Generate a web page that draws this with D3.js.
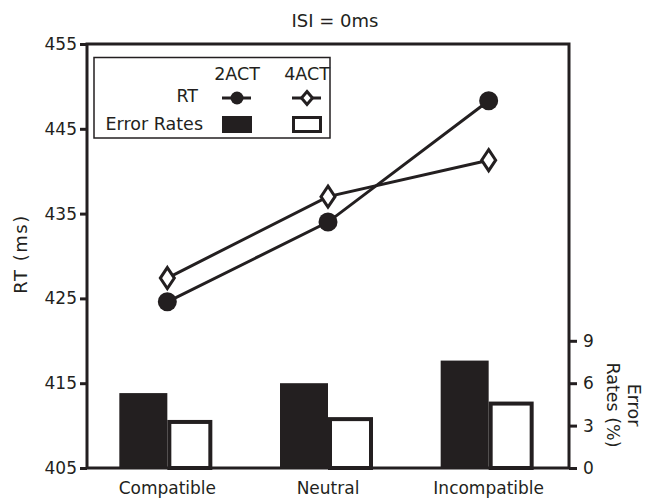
<!DOCTYPE html>
<html>
<head>
<meta charset="utf-8">
<script src="https://cdn.jsdelivr.net/npm/d3@7"></script>
<style>
  body { margin: 0; background: #fff; }
  text { font-family: "DejaVu Sans", Verdana, sans-serif; fill: #231f20; }
</style>
</head>
<body>
<div id="chart"></div>
<script>
// data
const categories = ["Compatible", "Neutral", "Incompatible"];
const groups = ["2ACT", "4ACT"];
const rt2act = [424.6, 434.0, 448.3];
const rt4act = [427.4, 437.0, 441.3];
const err2act = [5.3, 6.0, 7.6];
const err4act = [3.4, 3.6, 4.7];
const rtTicks = [405, 415, 425, 435, 445, 455];
const errTicks = [0, 3, 6, 9];

const W = 646, H = 499;
const margin = { top: 44, right: 77, bottom: 31, left: 87 };
const width = W - margin.left - margin.right;
const height = H - margin.top - margin.bottom;
const ink = "#231f20";

const svg = d3.select("#chart").append("svg")
    .attr("width", W)
    .attr("height", H);

const g = svg.append("g")
    .attr("transform", `translate(${margin.left},${margin.top})`);

// scales
const x = d3.scaleBand().domain(categories).range([0, width]);
const x1 = d3.scaleBand().domain(groups).range([-48, 48]);
const yRT = d3.scaleLinear().domain([405, 455]).range([height, 0]);
const yErr = d3.scaleLinear().domain([0, 30]).range([height, 0]);

const cx = c => x(c) + x.bandwidth() / 2;

// error rate bars
const errRows = categories.map((c, i) => ({ cat: c, "2ACT": err2act[i], "4ACT": err4act[i] }));

g.selectAll(".bar-2act")
    .data(errRows)
    .enter()
    .append("rect")
    .attr("class", "bar-2act")
    .attr("x", d => cx(d.cat) + x1("2ACT"))
    .attr("width", x1.bandwidth())
    .attr("y", d => yErr(d["2ACT"]))
    .attr("height", d => height - yErr(d["2ACT"]))
    .attr("fill", ink);

g.selectAll(".bar-4act")
    .data(errRows)
    .enter()
    .append("rect")
    .attr("class", "bar-4act")
    .attr("x", d => cx(d.cat) + x1("4ACT") + 2)
    .attr("width", x1.bandwidth() - 7)
    .attr("y", d => yErr(d["4ACT"]) + 2)
    .attr("height", d => height - yErr(d["4ACT"]) - 2)
    .attr("fill", "#fff")
    .attr("stroke", ink)
    .attr("stroke-width", 4);

// RT lines
const line = d3.line()
    .x((d, i) => cx(categories[i]))
    .y(d => yRT(d));

g.append("path")
    .datum(rt2act)
    .attr("d", line)
    .attr("fill", "none")
    .attr("stroke", ink)
    .attr("stroke-width", 3);

g.append("path")
    .datum(rt4act)
    .attr("d", line)
    .attr("fill", "none")
    .attr("stroke", ink)
    .attr("stroke-width", 3);

g.selectAll(".dot-2act")
    .data(rt2act)
    .enter()
    .append("circle")
    .attr("class", "dot-2act")
    .attr("cx", (d, i) => cx(categories[i]))
    .attr("cy", d => yRT(d))
    .attr("r", 9.5)
    .attr("fill", ink);

const diamond = (hw, hh) => `M0,${-hh}L${hw},0L0,${hh}L${-hw},0Z`;

g.selectAll(".dot-4act")
    .data(rt4act)
    .enter()
    .append("path")
    .attr("class", "dot-4act")
    .attr("transform", (d, i) => `translate(${cx(categories[i])},${yRT(d)})`)
    .attr("d", diamond(7, 10.5))
    .attr("fill", "#fff")
    .attr("stroke", ink)
    .attr("stroke-width", 3);

// frame
g.append("rect")
    .attr("width", width)
    .attr("height", height)
    .attr("fill", "none")
    .attr("stroke", ink)
    .attr("stroke-width", 3);

// axes
const leftAxis = g.append("g")
    .call(d3.axisLeft(yRT).tickValues(rtTicks).tickSize(7).tickPadding(3));

const rightAxis = g.append("g")
    .attr("transform", `translate(${width},0)`)
    .call(d3.axisRight(yErr).tickValues(errTicks).tickSize(8).tickPadding(6));

const bottomAxis = g.append("g")
    .attr("transform", `translate(0,${height})`)
    .call(d3.axisBottom(x).tickSize(0).tickPadding(14));

[leftAxis, rightAxis, bottomAxis].forEach(a => {
    a.select(".domain").remove();
    a.selectAll("line").attr("stroke", ink).attr("stroke-width", 3);
    a.selectAll("text")
        .style("font-family", "'DejaVu Sans', Verdana, sans-serif")
        .style("font-size", "17px")
        .attr("fill", ink);
});

// titles
svg.append("text")
    .attr("x", 335)
    .attr("y", 27)
    .attr("text-anchor", "middle")
    .style("font-size", "18px")
    .text("ISI = 0ms");

svg.append("text")
    .attr("transform", `translate(27,254) rotate(-90)`)
    .attr("text-anchor", "middle")
    .style("font-size", "18px")
    .style("letter-spacing", "1.5px")
    .text("RT (ms)");

// right axis title, two lines reading downwards
const errLabel = svg.append("text")
    .attr("transform", "translate(623,405) rotate(90)")
    .attr("text-anchor", "middle")
    .style("font-size", "17.5px");
errLabel.append("tspan").attr("x", 0).attr("y", -5).text("Error");
errLabel.append("tspan").attr("x", 0).attr("y", 16).text("Rates (%)");

// legend
const legend = svg.append("g");

legend.append("rect")
    .attr("x", 94)
    .attr("y", 57.5)
    .attr("width", 236)
    .attr("height", 80.5)
    .attr("fill", "#fff")
    .attr("stroke", ink)
    .attr("stroke-width", 1.5);

const legX = { "2ACT": 237, "4ACT": 307 };

legend.selectAll(".leg-head")
    .data(groups)
    .enter()
    .append("text")
    .attr("x", d => legX[d])
    .attr("y", 80)
    .attr("text-anchor", "middle")
    .style("font-size", "17.5px")
    .text(d => d);

legend.append("text")
    .attr("x", 198).attr("y", 102)
    .attr("text-anchor", "end")
    .style("font-size", "17.5px")
    .text("RT");

legend.append("text")
    .attr("x", 203).attr("y", 130)
    .attr("text-anchor", "end")
    .style("font-size", "17.5px")
    .text("Error Rates");

groups.forEach(grp => {
    legend.append("line")
        .attr("x1", legX[grp] - 15).attr("x2", legX[grp] + 14)
        .attr("y1", 98).attr("y2", 98)
        .attr("stroke", ink)
        .attr("stroke-width", 3);
});

legend.append("circle")
    .attr("cx", legX["2ACT"]).attr("cy", 98)
    .attr("r", 6.5)
    .attr("fill", ink);

legend.append("path")
    .attr("transform", `translate(${legX["4ACT"]},98)`)
    .attr("d", diamond(5.5, 6.5))
    .attr("fill", "#fff")
    .attr("stroke", ink)
    .attr("stroke-width", 3);

legend.append("rect")
    .attr("x", legX["2ACT"] - 15).attr("y", 116)
    .attr("width", 30).attr("height", 17)
    .attr("fill", ink);

legend.append("rect")
    .attr("x", legX["4ACT"] - 13.5).attr("y", 117.5)
    .attr("width", 27).attr("height", 14)
    .attr("fill", "#fff")
    .attr("stroke", ink)
    .attr("stroke-width", 3);
</script>
</body>
</html>
